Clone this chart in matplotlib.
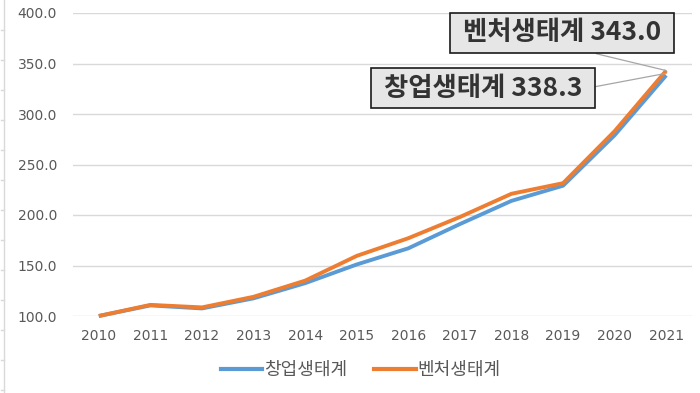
import numpy as np
import matplotlib
matplotlib.use('Agg')
import matplotlib.pyplot as plt
from matplotlib.lines import Line2D

# data (2010 = 100)
years = ['2010', '2011', '2012', '2013', '2014', '2015', '2016', '2017', '2018', '2019', '2020', '2021']
startup = [100.0, 110.5, 107.5, 117.5, 132.5, 151.0, 167.0, 191.0, 214.0, 229.0, 279.0, 338.3]
venture = [100.0, 111.0, 108.5, 119.0, 135.0, 159.5, 177.0, 198.0, 221.0, 231.5, 283.0, 343.0]
names = ['창업생태계', '벤처생태계']
colors = ['#5b9bd5', '#ed7d31']

kr = ['Noto Sans CJK KR', 'DejaVu Sans']
grey_txt = '#595959'

W, H = 700, 393
fig = plt.figure(figsize=(W / 100, H / 100), dpi=100)
ax = fig.add_axes([73 / W, 1 - 316 / H, (692 - 73) / W, (316 - 13) / H])

x = np.arange(len(years))
ax.plot(x, startup, color=colors[0], lw=2.8, solid_capstyle='butt', clip_on=False, zorder=3)
ax.plot(x, venture, color=colors[1], lw=2.8, solid_capstyle='butt', clip_on=False, zorder=4)

ax.set_xlim(-0.5, len(years) - 0.5)
ax.set_ylim(100, 400)
ax.set_yticks(np.arange(100, 401, 50))
ax.set_yticklabels(['{:.1f}'.format(v) for v in np.arange(100, 401, 50)])
ax.set_xticks(x)
ax.set_xticklabels(years)
ax.tick_params(axis='both', length=0, labelsize=10, labelcolor=grey_txt)
ax.tick_params(axis='y', pad=11.5)
ax.tick_params(axis='x', pad=9)
ax.grid(axis='y', color='#d9d9d9', lw=1)
ax.set_axisbelow(True)
for s in ax.spines.values():
    s.set_visible(False)

# callout boxes
box = dict(boxstyle='square,pad=0.25', fc='#e7e6e6', ec='#1a1a1a', lw=1.2)
ax.annotate(' {} {:.1f} '.format(names[1], venture[-1]), xy=(x[-1], venture[-1]),
            xytext=(562, H - 33), textcoords='figure pixels',
            ha='center', va='center', fontsize=19, fontweight='bold',
            family=kr, color='#333333', bbox=box, zorder=6,
            arrowprops=dict(arrowstyle='-', color='#a6a6a6', lw=0.9,
                            relpos=(0.52, 0), shrinkA=0, shrinkB=0))
ax.annotate(' {} {:.1f} '.format(names[0], startup[-1]), xy=(x[-1], startup[-1] + 2),
            xytext=(483, H - 88), textcoords='figure pixels',
            ha='center', va='center', fontsize=19, fontweight='bold',
            family=kr, color='#333333', bbox=box, zorder=6,
            arrowprops=dict(arrowstyle='-', color='#a6a6a6', lw=0.9,
                            relpos=(1, 0.5), shrinkA=0, shrinkB=0))

handles = [Line2D([], [], color=c, lw=3) for c in colors]
leg = fig.legend(handles, names, loc='center', bbox_to_anchor=(0.515, 23 / H),
                 ncol=2, frameon=False, handlelength=2.3, handletextpad=0.1,
                 columnspacing=1.5, prop={'family': kr, 'size': 13})
for t in leg.get_texts():
    t.set_color(grey_txt)

# faint sheet border on the left of the screenshot
fig.add_artist(Line2D([4 / W, 4 / W], [0, 1], color='#d9d9d9', lw=1))
for yy in np.arange(30, H, 30):
    fig.add_artist(Line2D([1 / W, 4 / W], [1 - yy / H] * 2, color='#d9d9d9', lw=1))

fig.savefig('out.png', dpi=100)
